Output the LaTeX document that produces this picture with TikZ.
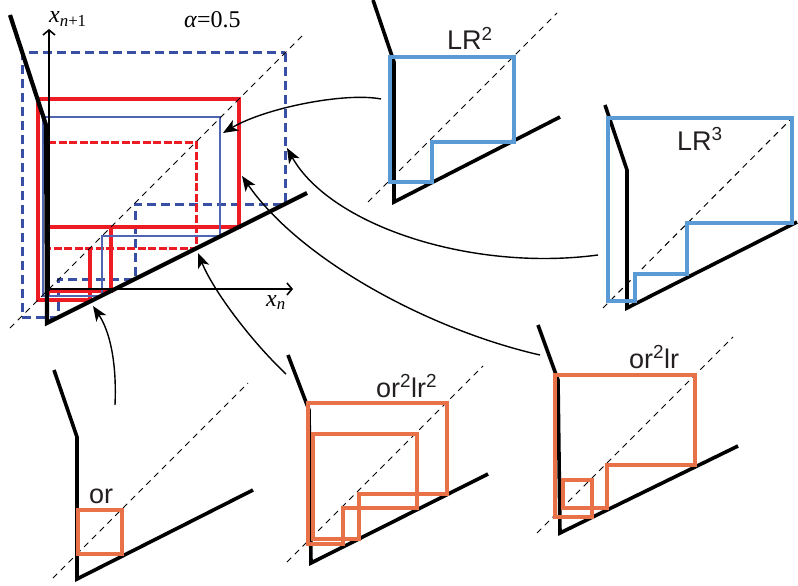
\documentclass[tikz,border=0pt]{standalone}
\usepackage{fontspec}
\setmainfont{Liberation Serif}
\newfontfamily\lsans{Liberation Sans}
\usetikzlibrary{arrows.meta}
\definecolor{pblue}{RGB}{91,155,213}
\definecolor{porange}{RGB}{233,113,72}
\definecolor{dblue}{RGB}{55,80,165}
\definecolor{tblue}{RGB}{80,100,180}
\definecolor{mred}{RGB}{237,28,36}
\definecolor{ltext}{RGB}{35,31,32}
\tikzset{
 mapline/.style={line width=3.6pt},
 mainmap/.style={line width=4.2pt},
 diag/.style={line width=1pt, dash pattern=on 6pt off 5pt},
 pcob/.style={pblue, line width=3.6pt},
 ocob/.style={porange, line width=3.8pt},
 bdash/.style={dblue, line width=3pt, dash pattern=on 9pt off 5pt},
 bthin/.style={tblue, line width=1.6pt},
 rsolid/.style={mred, line width=3.4pt},
 rdash/.style={mred, line width=3pt, dash pattern=on 8pt off 2.5pt},
 axisline/.style={line width=1.6pt, -{Straight Barb[length=5pt,width=12pt]}},
 conn/.style={line width=1.4pt, -{Stealth[length=15pt,width=12pt,inset=4pt]}},
 plabel/.style={font=\lsans\fontsize{27}{30}\selectfont, text=ltext, inner sep=0pt, anchor=base west},
 mlabel/.style={font=\fontsize{24}{27}\selectfont, inner sep=0pt, anchor=base west},
}
\begin{document}
\begin{tikzpicture}[x=1pt,y=-1pt]
\useasboundingbox (0,0) rectangle (798,586);

% ---------- main diagram ----------
\draw[bdash] (285,53) -- (285,204) -- (135,204) -- (135,279) -- (58,279) -- (58,317) -- (22,317) -- (22,53) -- cycle;
\draw[rdash] (48,142) -- (196,142) -- (196,248) -- (48,248);
\draw[rdash] (48,142) -- (48,300);
\draw[rsolid] (90,248) -- (90,300);
\draw[rsolid] (48,227) -- (239,227) -- (239,99) -- (38,99) -- (38,300) -- (90,300);
\draw[rsolid] (111,227) -- (111,291) -- (48,291);
\draw[bthin] (220,117) -- (220,236) -- (102,236) -- (102,296) -- (43,296) -- (43,117) -- cycle;
\draw[diag] (10,328) -- (303,35);
\draw[axisline] (49,291) -- (49,29);
\draw[axisline] (45,289) -- (293,289);
\draw[mainmap] (10,15) -- (46,125) -- (47,323) -- (307,193);
\node[mlabel] (xn1) at (49,23) {\textit{x}\textsubscript{\textit{n}+1}};
\node[mlabel] (xn) at (266,306) {\textit{x}\textsubscript{\textit{n}}};
\node[mlabel] (alpha) at (184,28) {\textit{α}=0.5};

% ---------- LR^2 panel ----------
\draw[mapline] (373,0) -- (394,62) -- (394,202) -- (560,117);
\draw[diag] (368,202) -- (557,13);
\draw[pcob] (514,57) -- (514,142) -- (432,142) -- (432,182) -- (390,182) -- (390,57) -- cycle;
\node[plabel] (lr2) at (447,50) {LR\textsuperscript{2}};

% ---------- LR^3 panel ----------
\draw[mapline] (605,105) -- (627,170) -- (627,308) -- (797,222);
\draw[diag] (603,308) -- (793,117);
\draw[pcob] (792,118) -- (792,223) -- (687,223) -- (687,274) -- (635,274) -- (635,301) -- (608,301) -- (608,118) -- cycle;
\node[plabel] (lr3) at (677,150) {LR\textsuperscript{3}};

% ---------- or panel ----------
\draw[mapline] (54,370) -- (77,437) -- (77,579) -- (253,490);
\draw[diag] (53,578) -- (248,383);
\draw[ocob] (78,510) rectangle (122,554);
\node[plabel] (or) at (89,503) {or};

% ---------- or^2lr^2 panel ----------
\draw[mapline] (288,355) -- (309,410) -- (311,563) -- (488,474);
\draw[diag] (287,562) -- (483,366);
\draw[ocob] (447,403) -- (447,494) -- (359,494) -- (359,539) -- (313,539) -- (313,434) -- (417,434) -- (417,508) -- (343,508) -- (343,544) -- (308,544) -- (308,403) -- cycle;
\node[plabel] (orlr2) at (376,397) {or\textsuperscript{2}lr\textsuperscript{2}};

% ---------- or^2lr panel ----------
\draw[mapline] (538,325) -- (558,380) -- (560,533) -- (738,446);
\draw[diag] (537,533) -- (733,337);
\draw[ocob] (695,375) -- (695,465) -- (607,465) -- (607,508) -- (563,508) -- (563,480) -- (592,480) -- (592,517) -- (555,517) -- (555,375) -- cycle;
\node[plabel] (orlr) at (629,368) {or\textsuperscript{2}lr};

% ---------- connectors ----------
\coordinate (s1) at (381,99);  \coordinate (t1) at (223,133);
\coordinate (s2) at (598,255); \coordinate (t2) at (287,148);
\coordinate (s3) at (540,355); \coordinate (t3) at (242,176);
\coordinate (s4) at (286,374); \coordinate (t4) at (198,253);
\coordinate (s5) at (115,405); \coordinate (t5) at (93,306);
\draw[conn] (s1) .. controls (345,92) and (265,108) .. (t1);
\draw[conn] (s2) .. controls (470,272) and (330,225) .. (t2);
\draw[conn] (s3) .. controls (430,330) and (300,260) .. (t3);
\draw[conn] (s4) .. controls (250,340) and (213,290) .. (t4);
\draw[conn] (s5) .. controls (117,360) and (109,330) .. (t5);
\end{tikzpicture}
\end{document}
